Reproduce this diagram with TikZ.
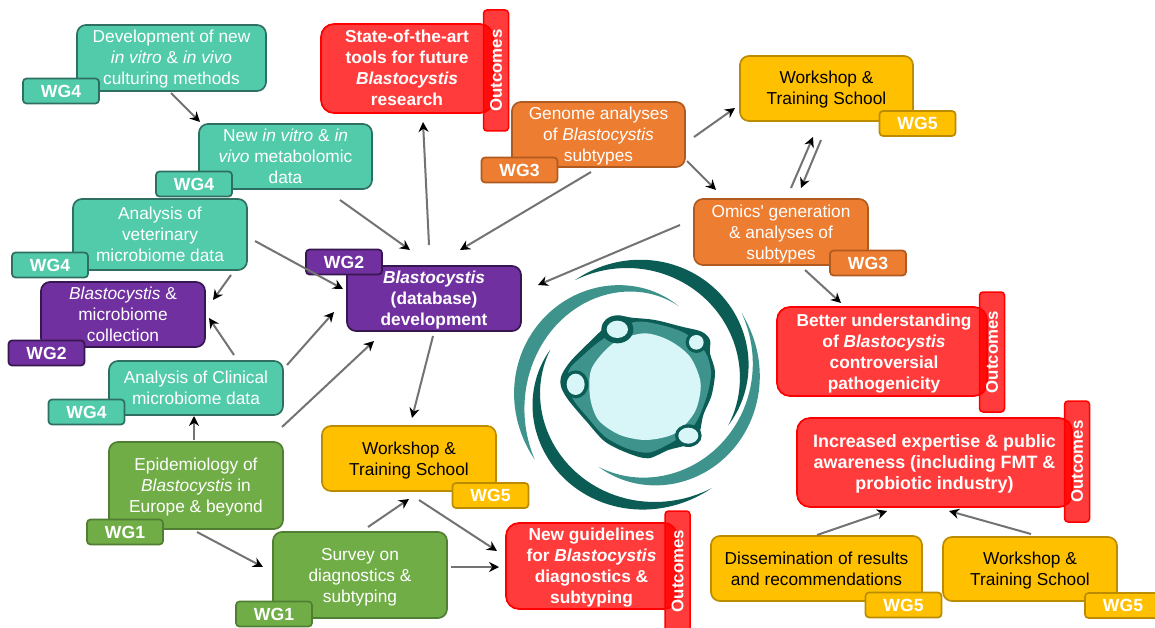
\documentclass[tikz,border=0pt]{standalone}
\usepackage{fontspec}
\setmainfont{Liberation Sans}
\newfontfamily\plainf{Liberation Sans}
\usetikzlibrary{arrows.meta}
\definecolor{cteal}{HTML}{52CBAA}\definecolor{bteal}{HTML}{2F6F62}
\definecolor{cpurple}{HTML}{7030A0}\definecolor{bpurple}{HTML}{37174F}
\definecolor{cgreen}{HTML}{70AD47}\definecolor{bgreen}{HTML}{507E32}
\definecolor{cyellow}{HTML}{FFC000}\definecolor{byellow}{HTML}{BC8C00}
\definecolor{corange}{HTML}{ED7D31}\definecolor{borange}{HTML}{AE5A21}
\definecolor{ldark}{HTML}{0B5C55}\definecolor{lteal}{HTML}{3F938D}\definecolor{llight}{HTML}{D8F6F8}
\newcommand{\ft}{\rule{0pt}{16pt}}
\newcommand{\bt}{\rule[-4pt]{0pt}{4pt}}
\tikzset{
 base/.style={draw,rounded corners=9,line width=1.7,inner sep=0,align=center,text=white,
   font=\fontsize{17.3}{21}\selectfont},
 wtag/.style={draw,rounded corners=3.5,line width=1.7,inner sep=0,minimum width=76,minimum height=25,
   text=white,font=\fontsize{17.6}{20}\selectfont\bfseries},
 tealbox/.style={base,fill=cteal,draw=bteal},  tealtag/.style={wtag,fill=cteal,draw=bteal},
 purplebox/.style={base,fill=cpurple,draw=bpurple}, purpletag/.style={wtag,fill=cpurple,draw=bpurple},
 greenbox/.style={base,fill=cgreen,draw=bgreen}, greentag/.style={wtag,fill=cgreen,draw=bgreen},
 yellowbox/.style={base,fill=cyellow,draw=byellow,text=black}, yellowtag/.style={wtag,fill=cyellow,draw=byellow},
 orangebox/.style={base,fill=corange,draw=borange}, orangetag/.style={wtag,fill=corange,draw=borange},
 redbox/.style={base,fill=red,fill opacity=.77,text opacity=1,draw=red,draw opacity=1,
   font=\fontsize{17.3}{21}\selectfont\bfseries,rounded corners=13},
 outtab/.style={draw=red,fill=red,fill opacity=.77,text opacity=1,draw opacity=1,line width=1.5,rounded corners=3.5,inner sep=0,
   minimum width=120,minimum height=25,
   rotate=90,text=white,font=\fontsize{16.8}{20}\selectfont\bfseries},
 arr/.style={draw=black!55,line width=2,-{Stealth[length=10,width=10,black]}},
}
\newcommand{\link}[6]{\draw[arr] ([shift={(#2,#3)}]#1.center) -- ([shift={(#5,#6)}]#4.center);}
% colour, angle 0/1, radius 0/1, bulge, thickness, skew
\newcommand{\crescent}[8]{%
 \def\cTH{((#2)+((#3)-(#2))*\x)}%
 \def\cR{((#4)+((#5)-(#4))*\x+(#6)*sin(180*\x))}%
 \def\cH{((#7)/2*sin(180*(\x+(#8)*\x*(1-\x))))}%
 \fill[#1] plot[domain=0:1,samples=70] ({385+(\cR+\cH)*cos(\cTH)},{395+(\cR+\cH)*sin(\cTH)})
   -- plot[domain=1:0,samples=70] ({385+(\cR-\cH)*cos(\cTH)},{395+(\cR-\cH)*sin(\cTH)}) -- cycle;}
\begin{document}
\begin{tikzpicture}[x=1pt,y=-1pt]
\useasboundingbox (0,0) rectangle (1155,628);
\fill[white] (0,0) rectangle (1155,628);
% logo
\begin{scope}[shift={(510,250)},x=0.3333pt,y=-0.3333pt]
 \crescent{ldark}{-122}{26}{359}{300}{10}{42}{0}
 \crescent{lteal}{-62}{-217}{257}{389}{-8}{44}{-0.5}
 \crescent{ldark}{200}{55.5}{281}{388}{12}{38}{0}
 \crescent{lteal}{-33.5}{115}{372}{282}{0}{38}{0}
\end{scope}
\begin{scope}[shift={(555,305)},x=0.3333pt,y=-0.3333pt]
 \fill[ldark] plot[smooth cycle] coordinates {(150,65)(165,40)(195,32)(230,38)(300,45)(380,65)(440,80)(465,105)(465,145)(480,200)(470,270)(445,330)(430,395)(395,420)(340,435)(280,460)(220,445)(150,410)(95,350)(40,285)(18,245)(20,210)(50,165)(120,95)};
 \fill[lteal] plot[smooth cycle] coordinates {(140,105)(235,52)(310,58)(390,85)(450,140)(468,200)(458,265)(430,340)(400,380)(340,418)(280,443)(215,430)(150,395)(100,340)(50,275)(40,200)(80,155)};
 \fill[llight] plot[smooth cycle] coordinates {(265,85)(340,105)(405,155)(437,235)(420,320)(360,385)(275,405)(195,390)(130,345)(105,275)(110,190)(175,115)};
 \fill[ldark] (187,73) ellipse [x radius=48,y radius=42];
 \fill[llight] (187,73) ellipse [x radius=32,y radius=26];
 \fill[ldark] (424,112) circle [radius=32];
 \fill[llight] (424,112) circle [radius=22];
 \fill[ldark] (62,238) ellipse [x radius=38,y radius=42];
 \fill[llight] (62,238) ellipse [x radius=27,y radius=32];
 \fill[ldark] (400,392) ellipse [x radius=40,y radius=34];
 \fill[llight] (400,392) ellipse [x radius=30,y radius=24];
\end{scope}
% boxes
\node[tealbox,minimum width=189,minimum height=66] (dev) at (171.5,58) {\ft Development of new\\\textit{in vitro} \& \textit{in vivo}\\culturing methods\bt};
\node[tealtag] (tdev) at (61,91) {WG4};
\node[tealbox,minimum width=173,minimum height=65] (metab) at (285.5,156.5) {\ft New \textit{in vitro} \& \textit{in}\\\textit{vivo} metabolomic\\data\bt};
\node[tealtag] (tmetab) at (194,184) {WG4};
\node[tealbox,minimum width=174,minimum height=71] (vet) at (160,234.5) {\ft Analysis of\\veterinary\\microbiome data\bt};
\node[tealtag] (tvet) at (50,265) {WG4};
\node[purplebox,minimum width=164,minimum height=65] (coll) at (123,314.5) {\ft\textit{Blastocystis} \&\\microbiome\\collection\bt};
\node[purpletag] (tcoll) at (46.5,353) {WG2};
\node[tealbox,minimum width=174,minimum height=54] (clin) at (196,388) {\ft Analysis of Clinical\\microbiome data\bt};
\node[tealtag] (tclin) at (86.5,412) {WG4};
\node[purplebox,minimum width=174,minimum height=65,font=\fontsize{17.3}{21}\selectfont\bfseries] (db) at (434,298.5) {\ft\textit{Blastocystis}\\(database)\\development\bt};
\node[purpletag] (tdb) at (344,262) {WG2};
\node[greenbox,minimum width=174,minimum height=87] (epi) at (196,485.5) {\ft Epidemiology of\\\textit{Blastocystis} in\\Europe \& beyond\bt};
\node[greentag] (tepi) at (125,532) {WG1};
\node[greenbox,minimum width=174,minimum height=86] (surv) at (360,575) {\ft Survey on\\diagnostics \&\\subtyping\bt};
\node[greentag] (tsurv) at (274,614) {WG1};
\node[yellowbox,minimum width=174,minimum height=65] (wsC) at (409,458.5) {\ft Workshop \&\\Training School\bt};
\node[yellowtag] (twsC) at (490.5,495.5) {WG5};
\node[yellowbox,minimum width=173,minimum height=65] (wsT) at (826.5,88.5) {\ft Workshop \&\\Training School\bt};
\node[yellowtag] (twsT) at (917.5,123.5) {WG5};
\node[yellowbox,minimum width=211,minimum height=65] (diss) at (816.5,568.5) {\ft Dissemination of results\\and recommendations\bt};
\node[yellowtag] (tdiss) at (903.5,605) {WG5};
\node[yellowbox,minimum width=174,minimum height=64] (wsBR) at (1030,569) {\ft Workshop \&\\Training School\bt};
\node[yellowtag] (twsBR) at (1123,605.5) {WG5};
\node[orangebox,minimum width=173,minimum height=65] (gen) at (598.5,134.5) {\ft Genome analyses\\of \textit{Blastocystis}\\subtypes\bt};
\node[orangetag] (tgen) at (519.5,170) {WG3};
\node[orangebox,minimum width=174,minimum height=66] (omics) at (781,232) {\ft Omics{\plainf'} generation\\\& analyses of\\subtypes\bt};
\node[orangetag] (tomics) at (868,263) {WG3};
\node[redbox,minimum width=172,minimum height=89] (tools) at (407,68.5) {\ft State-of-the-art\\tools for future\\\textit{Blastocystis}\\research\bt};
\node[outtab,minimum width=121] (otools) at (496,70.5) {Outcomes};
\node[redbox,minimum width=210,minimum height=89] (better) at (882,351.5) {\ft\hspace*{4pt}Better understanding\\\hspace*{4pt}of \textit{Blastocystis}\\\hspace*{4pt}controversial\\\hspace*{4pt}pathogenicity\bt};
\node[outtab] (obetter) at (992,352) {Outcomes};
\node[redbox,minimum width=275,minimum height=89,font=\fontsize{17.9}{21}\selectfont\bfseries] (incr) at (934.5,462.5) {\ft Increased expertise \& public\\awareness (including FMT \&\\probiotic industry)\bt};
\node[outtab,minimum width=121] (oincr) at (1077,461.5) {Outcomes};
\node[redbox,minimum width=171,minimum height=86] (guide) at (591.5,566) {\ft New guidelines\\for \textit{Blastocystis}\\diagnostics \&\\subtyping\bt};
\node[outtab] (oguide) at (677.5,571) {Outcomes};
% arrows
\link{dev}{-0.5}{35}{metab}{-85.5}{-34.5}
\link{metab}{54.5}{43.5}{db}{-24}{-48.5}
\link{vet}{95}{6.5}{db}{-91}{-9.5}
\link{vet}{71}{40.5}{coll}{90}{-14.5}
\link{clin}{38}{-33}{coll}{86}{3.5}
\link{clin}{91}{-23}{db}{-100}{13.5}
\link{epi}{86}{-58.5}{db}{-60}{42.5}
\link{epi}{-2}{-45.5}{clin}{-2}{28}
\link{epi}{1}{46.5}{surv}{-97}{-8}
\link{surv}{8}{-48}{wsC}{0}{40.5}
\link{surv}{91}{-8}{guide}{-92.5}{1}
\link{wsC}{10}{41.5}{guide}{-94.5}{-15}
\link{db}{-1}{37.5}{wsC}{3}{-40.5}
\link{db}{-5}{-53.5}{tools}{16}{53.5}
\link{gen}{-7.5}{37.5}{db}{26}{-48.5}
\link{omics}{-101}{-7}{db}{104}{-13.5}
\link{gen}{95.5}{2.5}{wsT}{-91.5}{19.5}
\link{gen}{88.5}{26.5}{omics}{-65}{-42}
\link{omics}{10}{-44}{wsT}{-13.5}{48.5}
\link{wsT}{-5.5}{51.5}{omics}{20}{-44}
\link{omics}{24}{38}{better}{-41}{-48.5}
\link{diss}{0.5}{-33.5}{incr}{-47.5}{48.5}
\link{wsBR}{1}{-35}{incr}{14.5}{48.5}
\end{tikzpicture}
\end{document}
